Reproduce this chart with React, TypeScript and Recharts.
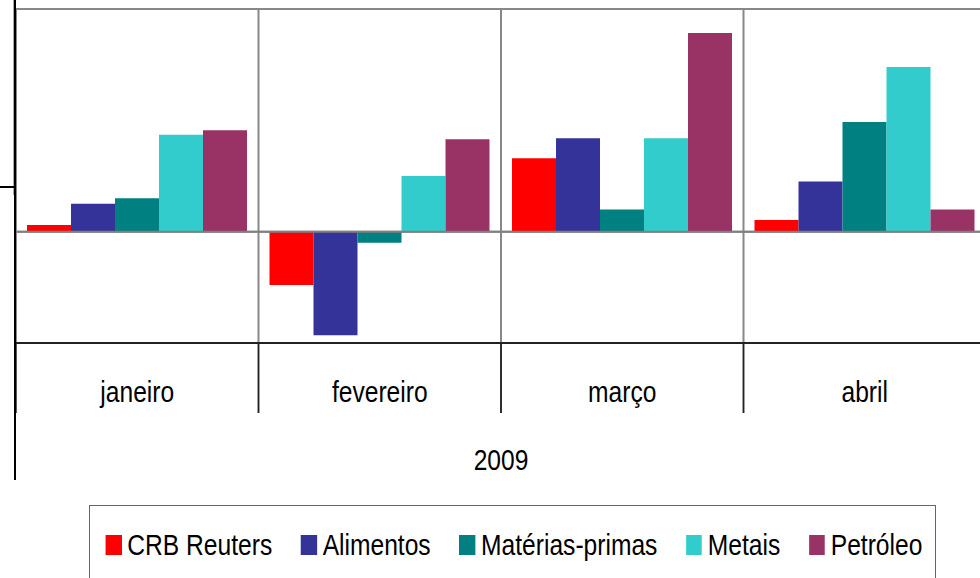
import { BarChart, Bar, XAxis, YAxis, CartesianGrid, ReferenceLine, Legend } from "recharts";

// monthly change of commodity indices, 2009 (%)
const months = ["janeiro", "fevereiro", "março", "abril"];
const crbReuters = [0.6, -4.8, 6.6, 1.05];
const alimentos = [2.5, -9.3, 8.4, 4.5];
const materiasPrimas = [3.0, -1.0, 2.0, 9.85];
const metais = [8.7, 5.0, 8.4, 14.8];
const petroleo = [9.1, 8.3, 17.85, 2.0];

const yTicks = [-10, 0, 20];

const series = [
  { key: "crb", name: "CRB Reuters", color: "#FF0000", values: crbReuters },
  { key: "alim", name: "Alimentos", color: "#333399", values: alimentos },
  { key: "mat", name: "Matérias-primas", color: "#008080", values: materiasPrimas },
  { key: "met", name: "Metais", color: "#33CCCC", values: metais },
  { key: "pet", name: "Petróleo", color: "#993366", values: petroleo },
];

const data = months.map((m, i) => {
  const row: Record<string, any> = { month: m };
  series.forEach((s) => (row[s.key] = s.values[i]));
  return row;
});

// no narrow font installed: squeeze Liberation Sans horizontally instead
const FONT = "'Liberation Sans', Arial, sans-serif";
const SQUEEZE = 0.82;
const TICK_MARGIN = 38;

// month label + the black separators at the edges of its band
const MonthTick = ({ x, y, payload }: any) => {
  const half = payload?.offset ?? 0;
  return (
    <g transform={`translate(${x},${y})`}>
      <line x1={-half} x2={-half} y1={-TICK_MARGIN} y2={32} stroke="#222" strokeWidth={1.5} />
      <line x1={half} x2={half} y1={-TICK_MARGIN} y2={32} stroke="#222" strokeWidth={1.5} />
      <text transform={`scale(${SQUEEZE} 1)`} textAnchor="middle" dy={21} fontSize={30} fontFamily={FONT} fill="#000">
        {payload.value}
      </text>
    </g>
  );
};

const YearLabel = ({ viewBox }: any) => (
  <g transform={`translate(${viewBox.x + viewBox.width / 2},${viewBox.y})`}>
    <text transform={`scale(${SQUEEZE} 1)`} textAnchor="middle" dy={127} fontSize={30} fontFamily={FONT} fill="#000">
      2009
    </text>
  </g>
);

// vertical grid at the band boundaries of the month axis
const bandEdges = ({ xAxis, offset }: any) => {
  const scale = xAxis?.scale;
  const px = (v: string) =>
    typeof scale === "function" ? scale(v) : typeof scale?.map === "function" ? scale.map(v) : undefined;
  let edges = months.map((m) => px(m));
  if (edges.some((e) => typeof e !== "number" || isNaN(e))) {
    edges = months.map((_, i) => offset.left + (i * offset.width) / months.length);
  }
  return [...edges, offset.left + offset.width] as number[];
};

const renderLegend = ({ payload }: any) => {
  const items = series.map((s) => (payload || []).find((p: any) => p.value === s.name)).filter(Boolean);
  return (
    <div
      style={{
        display: "flex",
        alignItems: "flex-start",
        paddingLeft: 19,
        paddingTop: 29,
        transform: `scaleX(${SQUEEZE})`,
        transformOrigin: "0 0",
        fontFamily: FONT,
        fontSize: 30,
        color: "#000",
      }}
    >
      {items.map((p: any) => (
        <div key={p.value} style={{ display: "flex", alignItems: "flex-start", marginRight: 35 }}>
          <div style={{ width: 19.5, height: 20, background: p.color }} />
          <span style={{ lineHeight: "20px", marginLeft: 7, whiteSpace: "nowrap" }}>{p.value}</span>
        </div>
      ))}
    </div>
  );
};

export default function App() {
  return (
    <div style={{ position: "absolute", left: 0, top: 0, width: 980, height: 578, overflow: "hidden", background: "#fff" }}>
      <BarChart
        width={1000}
        height={578}
        data={data}
        margin={{ top: 9, right: 14, bottom: 234, left: 16 }}
        barCategoryGap={11}
        barGap={0}
      >
        <CartesianGrid stroke="#888" strokeWidth={2} verticalCoordinatesGenerator={bandEdges} />
        <XAxis
          dataKey="month"
          height={1}
          axisLine={{ stroke: "#000", strokeWidth: 1.5 }}
          tickLine={false}
          tickSize={0}
          tickMargin={TICK_MARGIN}
          tick={<MonthTick />}
          label={<YearLabel />}
        />
        <YAxis hide domain={[-10, 20]} ticks={yTicks} />
        {series.map((s) => (
          <Bar key={s.key} dataKey={s.key} name={s.name} fill={s.color} isAnimationActive={false} />
        ))}
        <ReferenceLine y={0} stroke="#808080" strokeWidth={2} />
        <Legend
          verticalAlign="middle"
          align="center"
          content={renderLegend}
          wrapperStyle={{ left: 89, top: 505, width: 847, height: 100, border: "1.5px solid #666", boxSizing: "border-box", background: "#fff" }}
        />
      </BarChart>
      <div style={{ position: "absolute", left: 14, top: 0, width: 2, height: 480, background: "#000" }} />
      <div style={{ position: "absolute", left: 12.5, top: 0, width: 1.5, height: 195, background: "#aaa" }} />
      <div style={{ position: "absolute", left: 0, top: 186, width: 14, height: 1.5, background: "#000" }} />
    </div>
  );
}
